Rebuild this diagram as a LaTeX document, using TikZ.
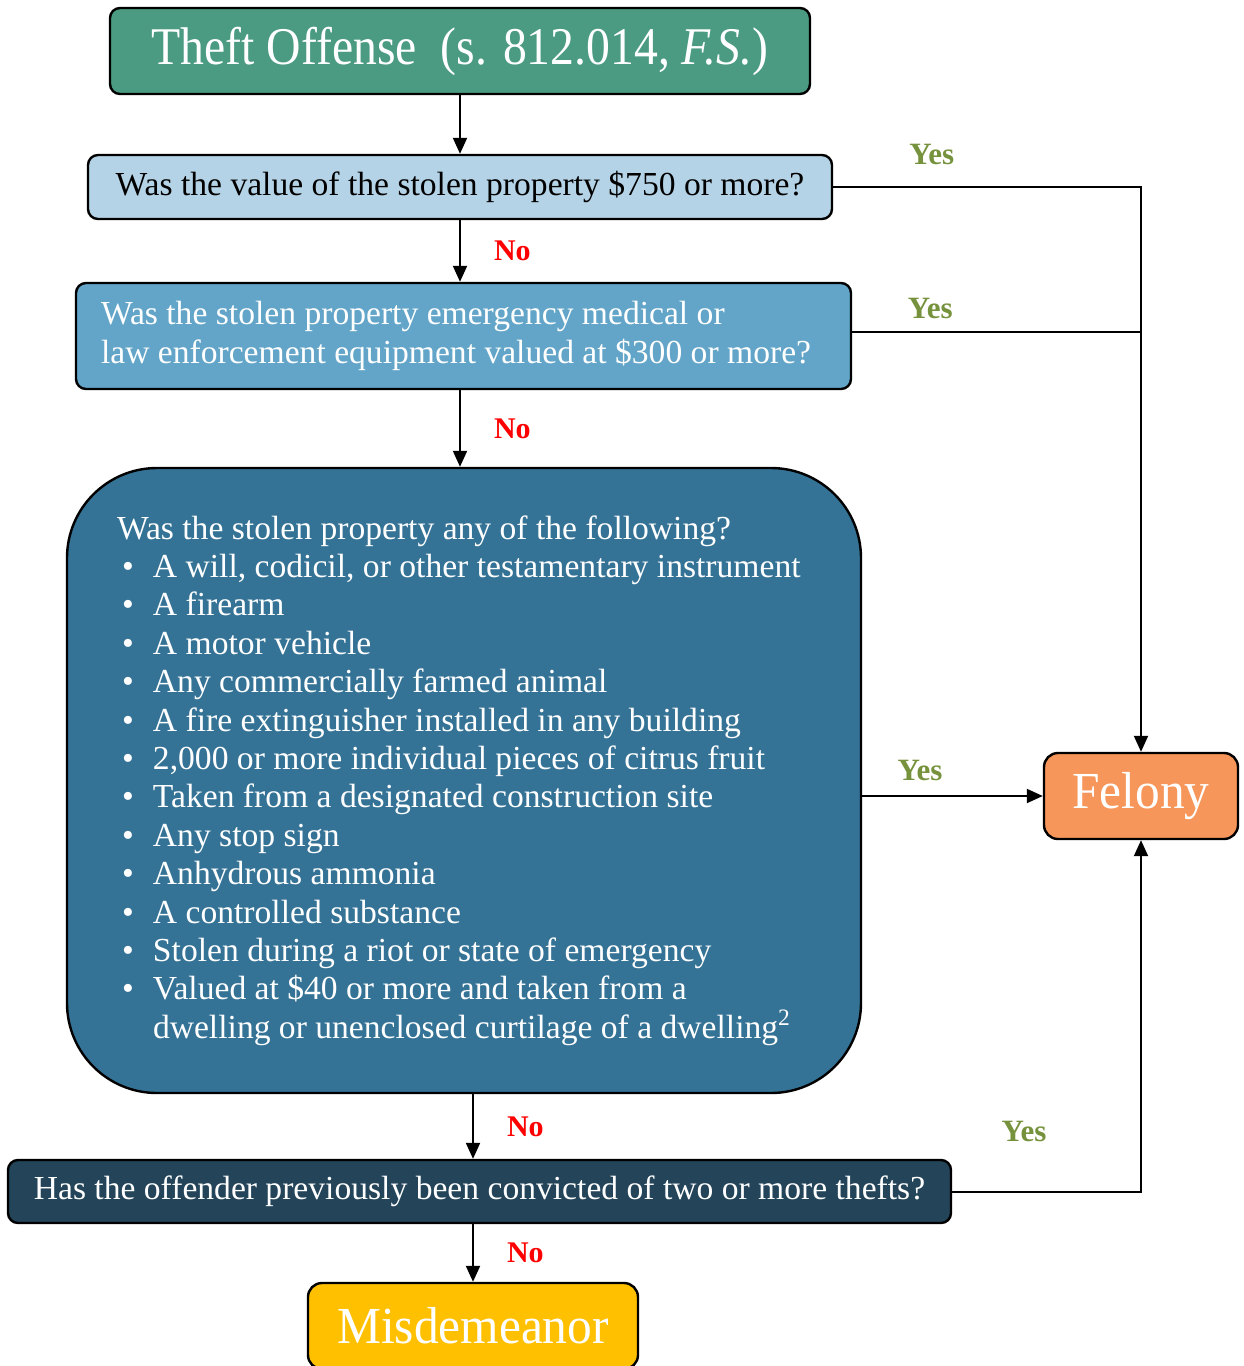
\documentclass[tikz,border=0pt]{standalone}
\usepackage{fontspec}
\setmainfont{Liberation Serif}
\newfontfamily\titleserif[FakeStretch=0.9]{Liberation Serif}
\newfontfamily\outcomeserif[FakeStretch=0.95]{Liberation Serif}
\usetikzlibrary{shapes.geometric, arrows.meta}
\definecolor{titlegreen}{RGB}{74,155,129}
\definecolor{paleblue}{RGB}{180,211,230}
\definecolor{midblue}{RGB}{99,165,201}
\definecolor{deepblue}{RGB}{53,115,150}
\definecolor{navyblue}{RGB}{35,68,89}
\definecolor{felonyorange}{RGB}{247,150,90}
\definecolor{misdgold}{RGB}{255,192,0}
\definecolor{yesgreen}{RGB}{118,146,60}
\definecolor{nored}{RGB}{255,0,0}
\tikzstyle{startstop} = [rectangle, rounded corners=5pt, draw=black, line width=1.2pt, text=white, fill=titlegreen, minimum width=350pt, minimum height=43pt, font=\titleserif\fontsize{26.5}{32}\selectfont]
\tikzstyle{question} = [rectangle, rounded corners=5pt, draw=black, line width=1.2pt, inner sep=0pt, font=\fontsize{16.8}{19.5}\selectfont]
\tikzstyle{outcome} = [rectangle, rounded corners=7pt, draw=black, line width=1.2pt, text=white, font=\outcomeserif\fontsize{26}{32}\selectfont]
\tikzstyle{arrow} = [line width=1pt, -{Triangle[length=8pt,width=7pt]}]
\tikzstyle{joinline} = [line width=1pt]
\tikzstyle{nolabel} = [font=\bfseries\fontsize{15}{18}\selectfont, text=nored, inner sep=0pt, anchor=west, xshift=16.5pt]
\tikzstyle{yeslabel} = [font=\bfseries\fontsize{15.5}{18}\selectfont, text=yesgreen, inner sep=0pt]
\newcommand{\qitem}[1]{\makebox[18pt][l]{\hspace*{2.5pt}\textbullet}#1\\}

\begin{document}
\begin{tikzpicture}[x=0.5pt, y=-0.5pt]
    \useasboundingbox (0,0) rectangle (1243,1366);

    \node (title) [startstop] at (460,51) {Theft Offense\ \ (s. 812.014, \textit{F.S.})};
    \node (q1) [question, fill=paleblue, minimum width=372pt, minimum height=32pt] at (460,187) {Was the value of the stolen property \$750 or more?};
    \node (q2) [question, fill=midblue, text=white, minimum width=387.5pt, minimum height=53pt, inner xsep=12.5pt, text width=362.5pt, align=flush left] at (463.5,336) {Was the stolen property emergency medical or\\law enforcement equipment valued at \$300 or more?};
    \node (q3) [question, fill=deepblue, text=white, rounded corners=45pt, minimum width=397pt, minimum height=312.5pt, inner xsep=25pt, text width=347pt, align=flush left, font=\fontsize{16.8}{19.2}\selectfont] at (464,780.5) {Was the stolen property any of the following?\\
        \qitem{A will, codicil, or other testamentary instrument}
        \qitem{A firearm}
        \qitem{A motor vehicle}
        \qitem{Any commercially farmed animal}
        \qitem{A fire extinguisher installed in any building}
        \qitem{2,000 or more individual pieces of citrus fruit}
        \qitem{Taken from a designated construction site}
        \qitem{Any stop sign}
        \qitem{Anhydrous ammonia}
        \qitem{A controlled substance}
        \qitem{Stolen during a riot or state of emergency}
        \qitem{Valued at \$40 or more and taken from a}
        \hspace*{18pt}dwelling or unenclosed curtilage of a dwelling\textsuperscript{2}};
    \node (q4) [question, fill=navyblue, text=white, minimum width=471.5pt, minimum height=31.5pt] at (479.5,1191.5) {Has the offender previously been convicted of two or more thefts?};
    \node (felony) [outcome, fill=felonyorange, minimum width=97pt, minimum height=43pt] at (1141,796) {Felony};
    \node (misd) [outcome, fill=misdgold, minimum width=165pt, minimum height=43pt] at (473,1326) {Misdemeanor};

    \draw [arrow] (title) -- (q1);
    \draw [arrow] (q1) -- node[nolabel] {No} (q1.south |- q2.north);
    \draw [arrow] (q2.south -| title) -- node[nolabel] {No} (q3.north -| title);
    \draw [arrow] (q3.south -| misd) -- node[nolabel] {No} (q4.north -| misd);
    \draw [arrow] (q4.south -| misd) -- node[nolabel] {No} (misd);
    \draw [arrow] (q1.east) -| node[yeslabel, pos=0.16, yshift=16.5pt] {Yes} (felony.north);
    \draw [joinline] ([yshift=2pt]q2.east) -- node[yeslabel, pos=0.27, yshift=12pt] {Yes} ([yshift=2pt]q2.east -| felony);
    \draw [arrow] (felony.west -| q3.east) -- node[yeslabel, pos=0.32, yshift=13pt] {Yes} (felony.west);
    \draw [arrow] (q4.east) -| node[yeslabel, pos=0.19, yshift=30pt] {Yes} (felony.south);

\end{tikzpicture}
\end{document}
